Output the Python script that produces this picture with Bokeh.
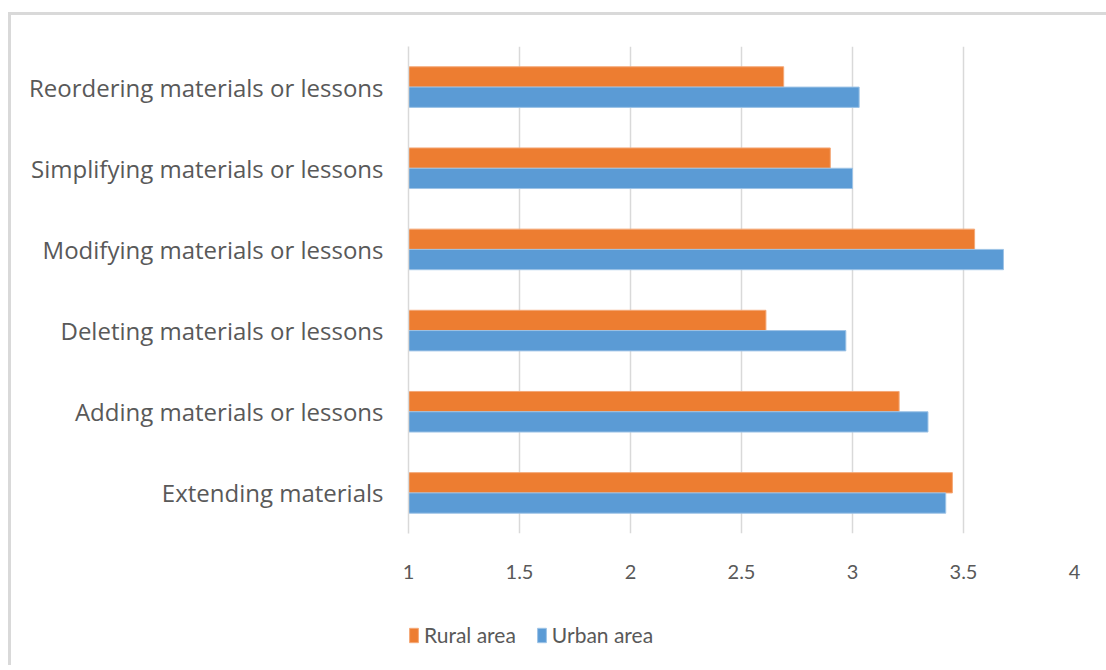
from bokeh.plotting import figure
from bokeh.models import FactorRange, Legend, LegendItem, Range1d, FixedTicker, ColumnDataSource
from bokeh.layouts import column
from bokeh.transform import dodge
from bokeh.embed import file_html
from bokeh.resources import INLINE

categories = [
    "Extending materials",
    "Adding materials or lessons",
    "Deleting materials or lessons",
    "Modifying materials or lessons",
    "Simplifying materials or lessons",
    "Reordering materials or lessons",
]
rural = [3.45, 3.21, 2.61, 3.55, 2.90, 2.69]
urban = [3.42, 3.34, 2.97, 3.68, 3.00, 3.03]
x_ticks = [1, 1.5, 2, 2.5, 3, 3.5, 4]
series = ["Rural area", "Urban area"]
colors = ["#ED7D31", "#5B9BD5"]
edge_colors = ["#F4A877", "#9DC3E6"]

TXT = "#595959"

src = ColumnDataSource(dict(cat=categories, rural=rural, urban=urban))

p = figure(
    width=1095, height=590,
    y_range=FactorRange(*categories),
    x_range=Range1d(1, 4),
    output_backend="svg", toolbar_location=None,
    min_border_left=397, min_border_right=32, min_border_top=31, min_border_bottom=72,
)
p.outline_line_color = None

p.hbar(y=dodge("cat", 0.125, range=p.y_range), left=1, right="rural", height=0.25,
       source=src, fill_color=colors[0], line_color=edge_colors[0], line_width=1)
p.hbar(y=dodge("cat", -0.125, range=p.y_range), left=1, right="urban", height=0.25,
       source=src, fill_color=colors[1], line_color=edge_colors[1], line_width=1)

p.xaxis.ticker = FixedTicker(ticks=x_ticks)
p.xaxis.major_label_overrides = {1: "1", 1.5: "1.5", 2: "2", 2.5: "2.5", 3: "3", 3.5: "3.5", 4: "4"}
p.xaxis.axis_line_color = None
p.xaxis.major_tick_line_color = None
p.xaxis.minor_tick_line_color = None
p.xaxis.major_label_text_font = "Lato"
p.xaxis.major_label_text_font_size = "20px"
p.xaxis.major_label_text_color = TXT
p.xaxis.major_label_standoff = 25

p.yaxis.axis_line_color = "#d9d9d9"
p.yaxis.axis_line_width = 1.5
p.yaxis.major_tick_line_color = None
p.yaxis.minor_tick_line_color = None
p.yaxis.major_label_text_font = "Open Sans"
p.yaxis.major_label_text_font_size = "24px"
p.yaxis.major_label_text_color = TXT
p.yaxis.major_label_standoff = 19

p.xgrid.grid_line_color = "#d9d9d9"
p.xgrid.grid_line_width = 1.5
p.ygrid.grid_line_color = None

# legend strip below the chart
p2 = figure(width=1095, height=60, output_backend="svg", toolbar_location=None,
            x_axis_location=None, y_axis_location=None,
            min_border_left=392, min_border_top=17, min_border_right=0, min_border_bottom=0,
            x_range=Range1d(0, 1), y_range=Range1d(0, 1))
p2.outline_line_color = None
p2.grid.grid_line_color = None
p2.background_fill_alpha = 0
items = []
for i, (name, c, ec) in enumerate(zip(series, colors, edge_colors)):
    # hidden stand-in renderer, only used to draw the legend swatch
    r = p2.hbar(y=[i], right=[i], height=0, fill_color=c, line_color=ec, visible=False)
    items.append(LegendItem(label=name, renderers=[r]))

legend = Legend(
    items=items,
    orientation="horizontal",
    location="top_left",
    glyph_width=11, glyph_height=18, label_height=18,
    label_text_font="Lato", label_text_font_size="21px", label_text_color=TXT,
    label_standoff=5, spacing=20, padding=0, margin=0,
    border_line_color=None, background_fill_alpha=0,
)
p2.add_layout(legend, "center")

layout = column(p, p2, spacing=0)
layout.styles = {"border-top": "3px solid #d9d9d9", "border-left": "3px solid #d9d9d9",
                 "margin-top": "12px", "margin-left": "8px"}

open("out.html", "w").write(file_html(layout, INLINE))
